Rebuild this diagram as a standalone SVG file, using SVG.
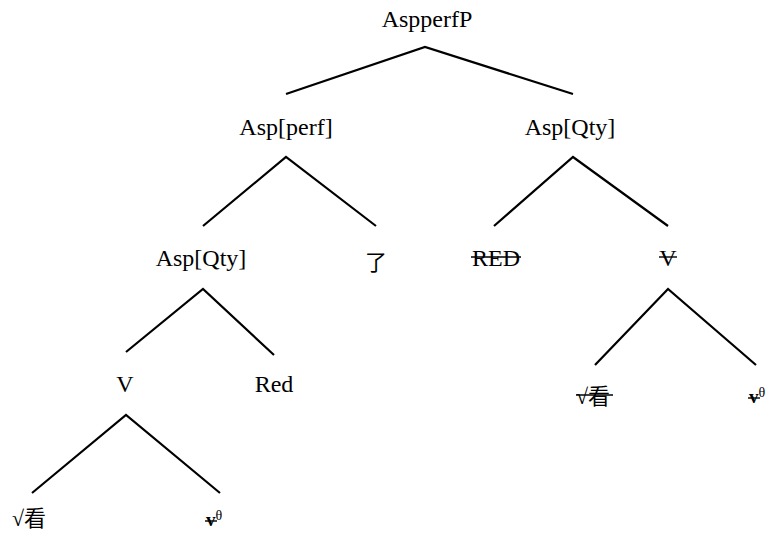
<svg xmlns="http://www.w3.org/2000/svg" width="766" height="537" viewBox="0 0 766 537">
  <style>
    .lbl { font-family: "Liberation Serif", "Times New Roman", "Noto Sans CJK SC", serif; font-size: 24px; fill: #000; text-anchor: middle; }
    .cjk { font-family: "Liberation Serif", "Noto Sans CJK SC", serif; font-size: 22px; fill: #000; }
    .vv { font-family: "Liberation Serif", serif; font-size: 19px; font-weight: bold; fill: #000; }
    .th { font-family: "Liberation Serif", serif; font-size: 14px; fill: #000; }
    .edge { stroke: #000; stroke-width: 2.2; fill: none; stroke-linecap: butt; stroke-linejoin: miter; }
    .strike { stroke: #000; stroke-width: 1.4; }
  </style>
  <rect width="766" height="537" fill="#fff"/>

  <g id="connectors">
    <polyline class="edge" points="286,94 425,47 573,94"/>
    <polyline class="edge" points="203,226 286,157 376,226"/>
    <polyline class="edge" points="494,226 573,157 668,226"/>
    <polyline class="edge" points="126,352 203,289 274,355"/>
    <polyline class="edge" points="595,365 668,289 756,365"/>
    <polyline class="edge" points="32,493 126,415 220,493"/>
  </g>

  <g id="n-aspperfP"><text class="lbl" x="427" y="27">AspperfP</text></g>
  <g id="n-asp-perf"><text class="lbl" x="286" y="135">Asp[perf]</text></g>
  <g id="n-asp-qty-right"><text class="lbl" x="570" y="135">Asp[Qty]</text></g>
  <g id="n-asp-qty-left"><text class="lbl" x="201" y="266">Asp[Qty]</text></g>
  <g id="n-le"><text class="lbl" x="376" y="270" style="font-family:'Noto Sans CJK SC', sans-serif; font-size:22px">了</text></g>
  <g id="n-red-upper">
    <text class="lbl" x="496" y="266">RED</text>
    <line class="strike" x1="471" y1="257" x2="521" y2="257"/>
  </g>
  <g id="n-v-right">
    <text class="lbl" x="668" y="266">V</text>
    <line class="strike" x1="659" y1="257" x2="677" y2="257"/>
  </g>
  <g id="n-v-left"><text class="lbl" x="125" y="392">V</text></g>
  <g id="n-red"><text class="lbl" x="274" y="392">Red</text></g>
  <g id="n-root-right">
    <text class="cjk" x="576" y="404">√看</text>
    <line class="strike" x1="576" y1="395" x2="613" y2="395"/>
  </g>
  <g id="n-vtheta-right">
    <text x="749" y="403"><tspan class="vv">v</tspan><tspan class="th" dy="-6">θ</tspan></text>
    <line class="strike" x1="748" y1="398" x2="760" y2="398"/>
  </g>
  <g id="n-root-left"><text class="cjk" x="12" y="526">√看</text></g>
  <g id="n-vtheta-left">
    <text x="206" y="526"><tspan class="vv">v</tspan><tspan class="th" dy="-6">θ</tspan></text>
    <line class="strike" x1="205" y1="521" x2="217" y2="521"/>
  </g>
</svg>
